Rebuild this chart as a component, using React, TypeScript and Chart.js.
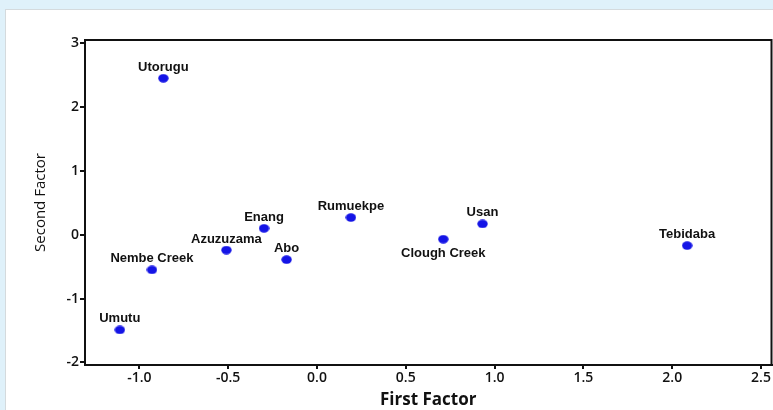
import React, { useEffect, useRef } from "react";
import { Chart, registerables } from "chart.js";

Chart.register(...registerables);

const sites = ["Utorugu", "Umutu", "Nembe Creek", "Azuzuzama", "Enang", "Abo", "Rumuekpe", "Clough Creek", "Usan", "Tebidaba"];
const firstFactor = [-0.865, -1.11, -0.929, -0.51, -0.298, -0.171, 0.191, 0.711, 0.932, 2.084];
const secondFactor = [2.45, -1.49, -0.55, -0.24, 0.1, -0.39, 0.27, -0.07, 0.17, -0.17];
const labelsBelow = ["Clough Creek"];
const xRange = [-1.306, 2.559];
const yRange = [-2.04, 3.05];
const xTitle = "First Factor";
const yTitle = "Second Factor";

function makeDot(): HTMLCanvasElement {
  const c = document.createElement("canvas");
  c.width = 11;
  c.height = 9;
  const g = c.getContext("2d")!;
  g.fillStyle = "#1414e6";
  g.beginPath();
  g.ellipse(5.5, 4.5, 5.2, 4.2, 0, 0, Math.PI * 2);
  g.fill();
  return c;
}

const framePlugin = {
  id: "frame",
  afterDraw(chart: any) {
    const { ctx, chartArea } = chart;
    ctx.save();
    ctx.strokeStyle = "#111";
    ctx.lineWidth = 2;
    ctx.beginPath();
    ctx.moveTo(chartArea.left, chartArea.top);
    ctx.lineTo(chartArea.right, chartArea.top);
    ctx.lineTo(chartArea.right, chartArea.bottom);
    ctx.stroke();
    ctx.restore();
  },
};

const labelPlugin = {
  id: "pointLabels",
  afterDatasetsDraw(chart: any) {
    const { ctx } = chart;
    const meta = chart.getDatasetMeta(0);
    ctx.save();
    ctx.font = "bold 13px 'Liberation Sans', Arial, sans-serif";
    ctx.fillStyle = "#111";
    ctx.textAlign = "center";
    ctx.textBaseline = "middle";
    meta.data.forEach((pt: any, i: number) => {
      const name = sites[i];
      const below = labelsBelow.includes(name);
      ctx.fillText(name, pt.x, below ? pt.y + 14 : pt.y - 11);
    });
    ctx.restore();
  },
};

const noPad = () => ({ left: 0, right: 0, top: 0, bottom: 0 });

export default function App() {
  const ref = useRef<HTMLCanvasElement>(null);
  useEffect(() => {
    if (!ref.current) return;
    const dot = makeDot();
    const tickFont = { family: "'Open Sans', sans-serif", size: 14, weight: 600 as any };
    const chart = new Chart(ref.current, {
      type: "scatter",
      data: {
        datasets: [
          {
            data: firstFactor.map((x, i) => ({ x, y: secondFactor[i] })),
            pointStyle: dot as any,
            pointRadius: 5,
            pointHoverRadius: 5,
            backgroundColor: "#1414e6",
          },
        ],
      },
      options: {
        responsive: false,
        animation: false,
        layout: { autoPadding: false, padding: { top: 40, right: 1.5, left: 0, bottom: 0 } },
        plugins: { legend: { display: false }, tooltip: { enabled: false } },
        scales: {
          x: {
            type: "linear",
            min: xRange[0],
            max: xRange[1],
            ticks: { stepSize: 0.5, includeBounds: false, color: "#111", font: tickFont, padding: 1,
              callback: (v: any) => Number(v).toFixed(1) },
            grid: { display: true, drawOnChartArea: false, drawTicks: true, tickLength: 4, color: "#111", lineWidth: 2 },
            border: { display: true, color: "#111", width: 2 },
            title: { display: true, text: xTitle, color: "#111", font: { family: "'Open Sans', sans-serif", size: 17, weight: "bold", lineHeight: 1.1 }, padding: { top: 0, bottom: 0 } },
            afterFit: (s: any) => { s.height = 45; s.paddingLeft = 0; s.paddingRight = 0; s.getPadding = noPad; },
          },
          y: {
            type: "linear",
            min: yRange[0],
            max: yRange[1],
            ticks: { stepSize: 1, includeBounds: false, color: "#111", font: tickFont, padding: 1 },
            grid: { display: true, drawOnChartArea: false, drawTicks: true, tickLength: 5, color: "#111", lineWidth: 2 },
            border: { display: true, color: "#111", width: 2 },
            title: { display: true, text: yTitle, color: "#111", font: { family: "'Open Sans', sans-serif", size: 15, weight: "normal", lineHeight: 1.2 }, padding: { top: 32, bottom: 0 } },
            afterFit: (s: any) => { s.width = 85; s.paddingTop = 0; s.paddingBottom = 0; s.getPadding = noPad; },
          },
        },
      },
      plugins: [framePlugin, labelPlugin],
    });
    return () => chart.destroy();
  }, []);

  return (
    <div style={{ position: "absolute", left: 0, top: 0, width: 773, height: 410, background: "#dff1fa", overflow: "hidden" }}>
      <div style={{ position: "absolute", left: 5, top: 9, right: 0, bottom: 0, background: "#fff", borderTop: "1px solid #d4dadd", borderLeft: "1px solid #d4dadd" }} />
      <canvas ref={ref} width={773} height={410} style={{ position: "absolute", left: 0, top: 0 }} />
    </div>
  );
}
